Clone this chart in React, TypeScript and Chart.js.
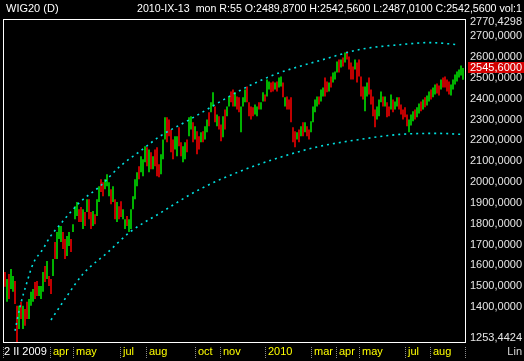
import React, { useEffect, useRef } from 'react';
import { Chart, registerables } from 'chart.js';

Chart.register(...registerables);

// ---- data ----
const lows = [
  1492, 1420, 1434, 1482, 1468, 1410, 1225, 1290, 1338, 1290,
  1305, 1338, 1338, 1401, 1420, 1434, 1448, 1448, 1434, 1468,
  1515, 1530, 1496, 1458, 1544, 1626, 1626, 1722, 1707, 1674,
  1626, 1640, 1688, 1659, 1755, 1817, 1832, 1803, 1803, 1770,
  1784, 1851, 1817, 1770, 1784, 1793, 1832, 1899, 1947, 1927,
  1961, 1975, 1927, 1889, 1899, 1817, 1803, 1817, 1827, 1817,
  1770, 1784, 1755, 1770, 1865, 1913, 1975, 2009, 2042, 2023,
  2090, 2071, 2042, 2057, 2057, 2071, 2023, 2018, 2033, 2105,
  2200, 2186, 2215, 2138, 2105, 2152, 2119, 2167, 2119, 2090,
  2105, 2138, 2215, 2248, 2186, 2200, 2129, 2152, 2186, 2186,
  2200, 2234, 2263, 2330, 2358, 2282, 2263, 2248, 2191, 2210,
  2248, 2311, 2358, 2378, 2358, 2358, 2344, 2330, 2234, 2358,
  2378, 2378, 2311, 2296, 2311, 2320, 2311, 2344, 2344, 2382,
  2382, 2406, 2440, 2426, 2430, 2440, 2430, 2449, 2454, 2402,
  2358, 2344, 2344, 2282, 2186, 2162, 2200, 2186, 2215, 2215,
  2234, 2215, 2200, 2234, 2282, 2330, 2358, 2368, 2382, 2406,
  2406, 2426, 2430, 2449, 2473, 2488, 2521, 2521, 2545, 2550,
  2569, 2584, 2536, 2488, 2488, 2536, 2473, 2502, 2406, 2392,
  2335, 2406, 2416, 2368, 2311, 2258, 2296, 2311, 2378, 2358,
  2358, 2306, 2311, 2344, 2330, 2344, 2358, 2344, 2320, 2296,
  2306, 2263, 2234, 2267, 2287, 2296, 2306, 2325, 2335, 2344,
  2354, 2363, 2382, 2392, 2402, 2416, 2421, 2411, 2440, 2449,
  2449, 2430, 2416, 2411, 2440, 2464, 2478, 2497, 2507, 2487.01,
];

const highs = [
  1563, 1530, 1554, 1578, 1544, 1520, 1401, 1401, 1420, 1401,
  1386, 1420, 1434, 1468, 1482, 1515, 1520, 1496, 1496, 1563,
  1592, 1616, 1544, 1530, 1626, 1707, 1755, 1784, 1784, 1755,
  1722, 1736, 1755, 1722, 1793, 1879, 1899, 1865, 1875, 1865,
  1851, 1913, 1913, 1851, 1856, 1841, 1913, 1975, 2009, 1994,
  2009, 2033, 1994, 1961, 1975, 1913, 1899, 1879, 1903, 1865,
  1817, 1832, 1817, 1865, 1927, 2009, 2042, 2071, 2119, 2105,
  2167, 2162, 2152, 2138, 2119, 2152, 2162, 2081, 2129, 2200,
  2306, 2306, 2296, 2248, 2200, 2215, 2215, 2258, 2186, 2167,
  2186, 2200, 2306, 2311, 2282, 2263, 2239, 2215, 2234, 2239,
  2263, 2296, 2330, 2378, 2426, 2358, 2320, 2311, 2272, 2311,
  2344, 2358, 2406, 2430, 2440, 2426, 2406, 2402, 2358, 2402,
  2440, 2454, 2378, 2358, 2354, 2368, 2358, 2378, 2378, 2426,
  2416, 2488, 2478, 2473, 2478, 2473, 2478, 2497, 2502, 2473,
  2402, 2406, 2392, 2402, 2258, 2239, 2234, 2248, 2263, 2282,
  2282, 2263, 2248, 2287, 2358, 2392, 2406, 2406, 2440, 2449,
  2497, 2478, 2473, 2502, 2521, 2526, 2574, 2584, 2584, 2593,
  2617, 2622, 2598, 2569, 2550, 2584, 2569, 2584, 2502, 2454,
  2454, 2473, 2497, 2440, 2406, 2344, 2358, 2392, 2430, 2406,
  2406, 2378, 2358, 2416, 2392, 2382, 2402, 2402, 2368, 2344,
  2354, 2320, 2296, 2320, 2335, 2344, 2354, 2373, 2382, 2392,
  2402, 2411, 2430, 2440, 2449, 2464, 2469, 2459, 2488, 2497,
  2502, 2488, 2478, 2464, 2488, 2512, 2526, 2536, 2555, 2542.56,
];

// u = rising session (green), d = falling session (red)
const directions = [
  'duduuddudu', 'dduuudduuu', 'dudduduuud', 'duuduuuddu', 'dudduduudd',
  'uuudududdu', 'uduuuuuduu', 'udududdduu', 'udddduuddu', 'uduududdud',
  'uuduududdu', 'duuddudduu', 'udddduuduu', 'duudduduud', 'udddddudud',
  'udduuuuduu', 'dduduuudud', 'uddddudddd', 'uudddduuud', 'udduduuddd',
  'dduuuduudu', 'duuduuddud', 'ddduuuuuuu',
].join('');

// regression channel (bar index, price)
const upperChannelX = [5, 7.5, 11, 14, 19, 22.5, 29, 37.5, 47.5, 57.5, 67.5, 77.5, 92.5, 117.5, 129, 137.5, 157.5, 177.5, 197.5, 212.5, 226.5];
const upperChannelY = [1281, 1396, 1515, 1602, 1674, 1731, 1808, 1899, 1975, 2071, 2143, 2215, 2296, 2435, 2488, 2521, 2579, 2632, 2655, 2665, 2655];
const lowerChannelX = [23, 31, 39, 51.5, 62.5, 77.5, 97.5, 117.5, 137.5, 157.5, 177.5, 197.5, 216.5, 229];
const lowerChannelY = [1333, 1448, 1554, 1659, 1755, 1846, 1961, 2047, 2114, 2167, 2200, 2224, 2229, 2224];

const yTickValues = [2770.4298, 2700, 2600, 2500, 2400, 2300, 2200, 2100, 2000, 1900, 1800, 1700, 1600, 1500, 1400, 1253.4424];
const monthLabels = ['2 II 2009', 'apr', 'may', 'jul', 'aug', 'oct', 'nov', '2010', 'mar', 'apr', 'may', 'jul', 'aug'];
const monthPositions = [-0.5, 22.9, 34.5, 57.9, 71, 95.5, 107.9, 130.5, 153.4, 165.9, 177.5, 200.5, 213];
const lastPrice = 2545.6;
const titleText = 'WIG20 (D)';
const infoText = '2010-IX-13  mon R:55 O:2489,8700 H:2542,5600 L:2487,0100 C:2542,5600 vol:1';
const scaleModeText = 'Lin';

const FONT = '11px "Liberation Sans", Arial, sans-serif';
const fmt = (v: number) => v.toFixed(4).replace('.', ',');

const overlay = {
  id: 'overlay',
  beforeDraw(chart: any) {
    const { ctx, width, height } = chart;
    ctx.save();
    ctx.fillStyle = '#000';
    ctx.fillRect(0, 0, width, height);
    ctx.restore();
  },
  afterDraw(chart: any) {
    const { ctx, chartArea: a, scales } = chart;
    const xs = scales.x;
    const ys = scales.y;
    const left = 3;
    const right = 465;
    const top = 19;
    const bottom = 342;
    ctx.save();
    // frame
    ctx.strokeStyle = '#ffffff';
    ctx.lineWidth = 1;
    ctx.strokeRect(left + 0.5, top + 0.5, right - left, bottom - top);

    ctx.font = FONT;
    ctx.textBaseline = 'middle';
    // y labels
    ctx.textAlign = 'left';
    ctx.fillStyle = '#e6e6e6';
    yTickValues.forEach((v) => {
      ctx.fillText(fmt(v), right + 5, Math.round(ys.getPixelForValue(v)) + 0.5);
    });
    // current price tag
    const py = Math.round(ys.getPixelForValue(lastPrice));
    ctx.fillStyle = '#d40000';
    ctx.fillRect(right + 3, py - 5, 56, 11);
    ctx.fillStyle = '#ffffff';
    ctx.fillText(fmt(lastPrice), right + 5, py + 0.5);

    // x labels with dotted separators
    const ly = bottom + 10;
    const sep = (px: number) => {
      ctx.fillStyle = '#8c8c8c';
      for (let yy = bottom + 5; yy < bottom + 17; yy += 2) ctx.fillRect(px, yy, 1, 1);
    };
    monthLabels.forEach((lab, i) => {
      const px = Math.round(xs.getPixelForValue(monthPositions[i])) - 1;
      sep(Math.max(px, left));
      ctx.fillStyle = i === 0 ? '#ffffff' : '#ffff00';
      ctx.fillText(lab, Math.max(px, left) + (i === 0 ? 1 : 3), ly);
    });
    sep(right);
    ctx.fillStyle = '#d8d8d8';
    ctx.textAlign = 'right';
    ctx.fillText(scaleModeText, 522, ly);

    // header
    ctx.fillStyle = '#ffffff';
    ctx.textAlign = 'left';
    ctx.fillText(titleText, 6, 9);
    const w = ctx.measureText(infoText).width;
    const target = 385;
    ctx.translate(522, 9);
    ctx.scale(Math.min(1, target / w), 1);
    ctx.textAlign = 'right';
    ctx.fillText(infoText, 0, 0);
    ctx.restore();
  },
};

export default function App() {
  const canvasRef = useRef<HTMLCanvasElement | null>(null);

  useEffect(() => {
    const canvas = canvasRef.current;
    if (!canvas) return;
    const colors = directions.split('').map((d) => (d === 'u' ? '#00ee00' : '#ff0000'));
    const chart = new Chart(canvas, {
      type: 'bar',
      data: {
        datasets: [
          {
            type: 'line',
            data: upperChannelX.map((x, i) => ({ x, y: upperChannelY[i] })),
            borderColor: '#00e0e0',
            borderWidth: 1.6,
            borderDash: [2, 4],
            pointRadius: 0,
            cubicInterpolationMode: 'monotone',
            order: 0,
          } as any,
          {
            type: 'line',
            data: lowerChannelX.map((x, i) => ({ x, y: lowerChannelY[i] })),
            borderColor: '#00e0e0',
            borderWidth: 1.6,
            borderDash: [2, 4],
            pointRadius: 0,
            cubicInterpolationMode: 'monotone',
            order: 0,
          } as any,
          {
            type: 'bar',
            data: lows.map((l, i) => ({ x: i, y: [l, highs[i]] })),
            backgroundColor: colors,
            borderWidth: 0,
            barPercentage: 0.75,
            categoryPercentage: 1,
            order: 1,
          } as any,
        ],
      },
      options: {
        animation: false,
        responsive: false,
        maintainAspectRatio: false,
        layout: { padding: { left: 4, right: 60, top: 19, bottom: 18 } },
        scales: {
          x: { type: 'linear', min: -0.5, max: 229.5, display: false, offset: false },
          y: { type: 'linear', min: 1222.3, max: 2778.3, display: false },
        },
        plugins: { legend: { display: false }, tooltip: { enabled: false } },
      },
      plugins: [overlay],
    });
    return () => chart.destroy();
  }, []);

  return (
    <div style={{ position: 'fixed', left: 0, top: 0, width: 524, height: 361, background: '#000' }}>
      <canvas ref={canvasRef} width={524} height={361} style={{ display: 'block', width: 524, height: 361 }} />
    </div>
  );
}
